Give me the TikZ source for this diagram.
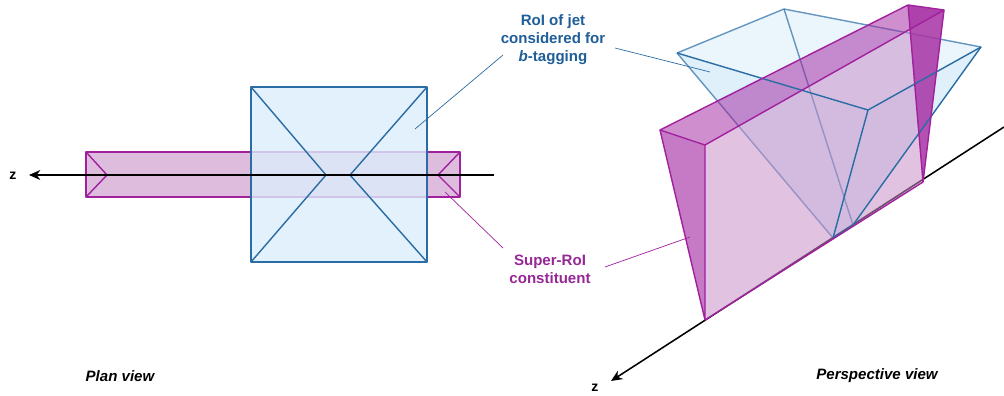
\documentclass[tikz,border=0pt]{standalone}
\usepackage{fontspec}
\setmainfont{Liberation Sans}
\usetikzlibrary{arrows.meta}
\definecolor{roiblue}{HTML}{1F5E98}
\definecolor{edgeblue}{HTML}{2A6CA4}
\definecolor{fillblue}{HTML}{DCEEFB}
\definecolor{roimag}{HTML}{962896}
\definecolor{edgemag}{HTML}{A0209E}
\definecolor{fillmag}{HTML}{C890C8}

\tikzset{
  lbl/.style={font=\fontsize{10.7}{12.8}\selectfont\bfseries, align=center, inner sep=0pt},
  viewlbl/.style={font=\fontsize{10.7}{12.8}\selectfont\bfseries\itshape, inner sep=0pt},
  leader/.style={line width=0.5pt},
  bluedge/.style={draw=edgeblue, line width=1pt, line join=round},
  magedge/.style={draw=edgemag, line width=1pt, line join=round},
  axis/.style={->, line width=1.1pt, black}
}

\begin{document}
\begin{tikzpicture}[>={Stealth[length=8pt, width=7pt, inset=2.5pt]}, x=0.025cm, y=-0.025cm]
  \useasboundingbox (0,0) rectangle (1004,395);

  % plan view
  \draw [fill=fillmag, fill opacity=0.6, magedge] (86,152) rectangle (460,197);
  \draw [magedge] (86,152) -- (107,175) -- (86,197);
  \draw [magedge] (460,152) -- (438,175) -- (460,197);

  \draw [fill=fillblue, fill opacity=0.8, bluedge] (251,87) rectangle (427,262);
  \draw [bluedge] (251,87) -- (326,175) -- (251,262);
  \draw [bluedge] (427,87) -- (350,175) -- (427,262);

  \coordinate (pend) at (494,175);
  \coordinate (ptip) at (29,175);
  \node (zplan) at (13,176) {\bfseries z};
  \draw [axis] (pend) -- (ptip);

  % perspective view
  \coordinate (t1) at (677,53);
  \coordinate (t2) at (784,9);
  \coordinate (t3) at (981,47);
  \coordinate (t4) at (868,110);
  \coordinate (a1) at (833,238);
  \coordinate (a2) at (853,225);

  \fill [fillblue, fill opacity=0.9] (t1) -- (t2) -- (t3) -- (a2) -- (a1) -- cycle;
  \fill [white, fill opacity=0.35] (t1) -- (t2) -- (t3) -- (t4) -- cycle;
  \draw [bluedge, draw opacity=0.7] (t1) -- (t2) -- (t3);
  \draw [bluedge, draw opacity=0.7] (t1) -- (a1);
  \draw [bluedge, draw opacity=0.7] (t2) -- (a2);

  \coordinate (axend) at (1004,127);
  \coordinate (axtip) at (611,381);
  \node (zpersp) at (595,388) {\bfseries z};
  \draw [axis] (axend) -- (axtip);

  \coordinate (m1) at (660,130);
  \coordinate (m2) at (705,145);
  \coordinate (m3) at (705,320);
  \coordinate (m4) at (908,5);
  \coordinate (m5) at (944,10);
  \coordinate (m6) at (923,182);

  \fill [fillmag, fill opacity=0.55] (m2) -- (m5) -- (m6) -- (m3) -- cycle;
  \fill [edgemag, fill opacity=0.5] (m1) -- (m2) -- (m5) -- (m4) -- cycle;
  \fill [edgemag, fill opacity=0.6] (m1) -- (m2) -- (m3) -- cycle;
  \fill [edgemag, fill opacity=0.7] (m4) -- (m5) -- (m6) -- cycle;

  \draw [bluedge] (t1) -- (t4) -- (t3);
  \draw [bluedge] (t4) -- (a1) -- (a2) -- (t3);

  \draw [magedge] (m1) -- (m4) -- (m5) -- (m2) -- cycle;
  \draw [magedge] (m1) -- (m3) -- (m2);
  \draw [magedge] (m3) -- (m6) -- (m5) (m4) -- (m6);

  % labels
  \node [lbl, text=roiblue] (roi) at (553,40)
  {RoI of jet\\considered for\\\textit{b}-tagging};
  \node [lbl, text=roimag] (super) at (550,269.5)
  {Super-RoI\\constituent};

  \coordinate (roiplan) at (415,129);
  \coordinate (roipersp) at (710,72);
  \coordinate (supplan) at (445,192);
  \coordinate (suppersp) at (690,237);

  \draw [leader, edgeblue] (503,55) -- (roiplan);
  \draw [leader, edgeblue] (615,48) -- (roipersp);
  \draw [leader, edgemag] (503,248) -- (supplan);
  \draw [leader, edgemag] (605,267) -- (suppersp);

  \node [viewlbl] (plan) at (120,376) {Plan view};
  \node [viewlbl] (persp) at (877,376) {Perspective view};
\end{tikzpicture}
\end{document}
